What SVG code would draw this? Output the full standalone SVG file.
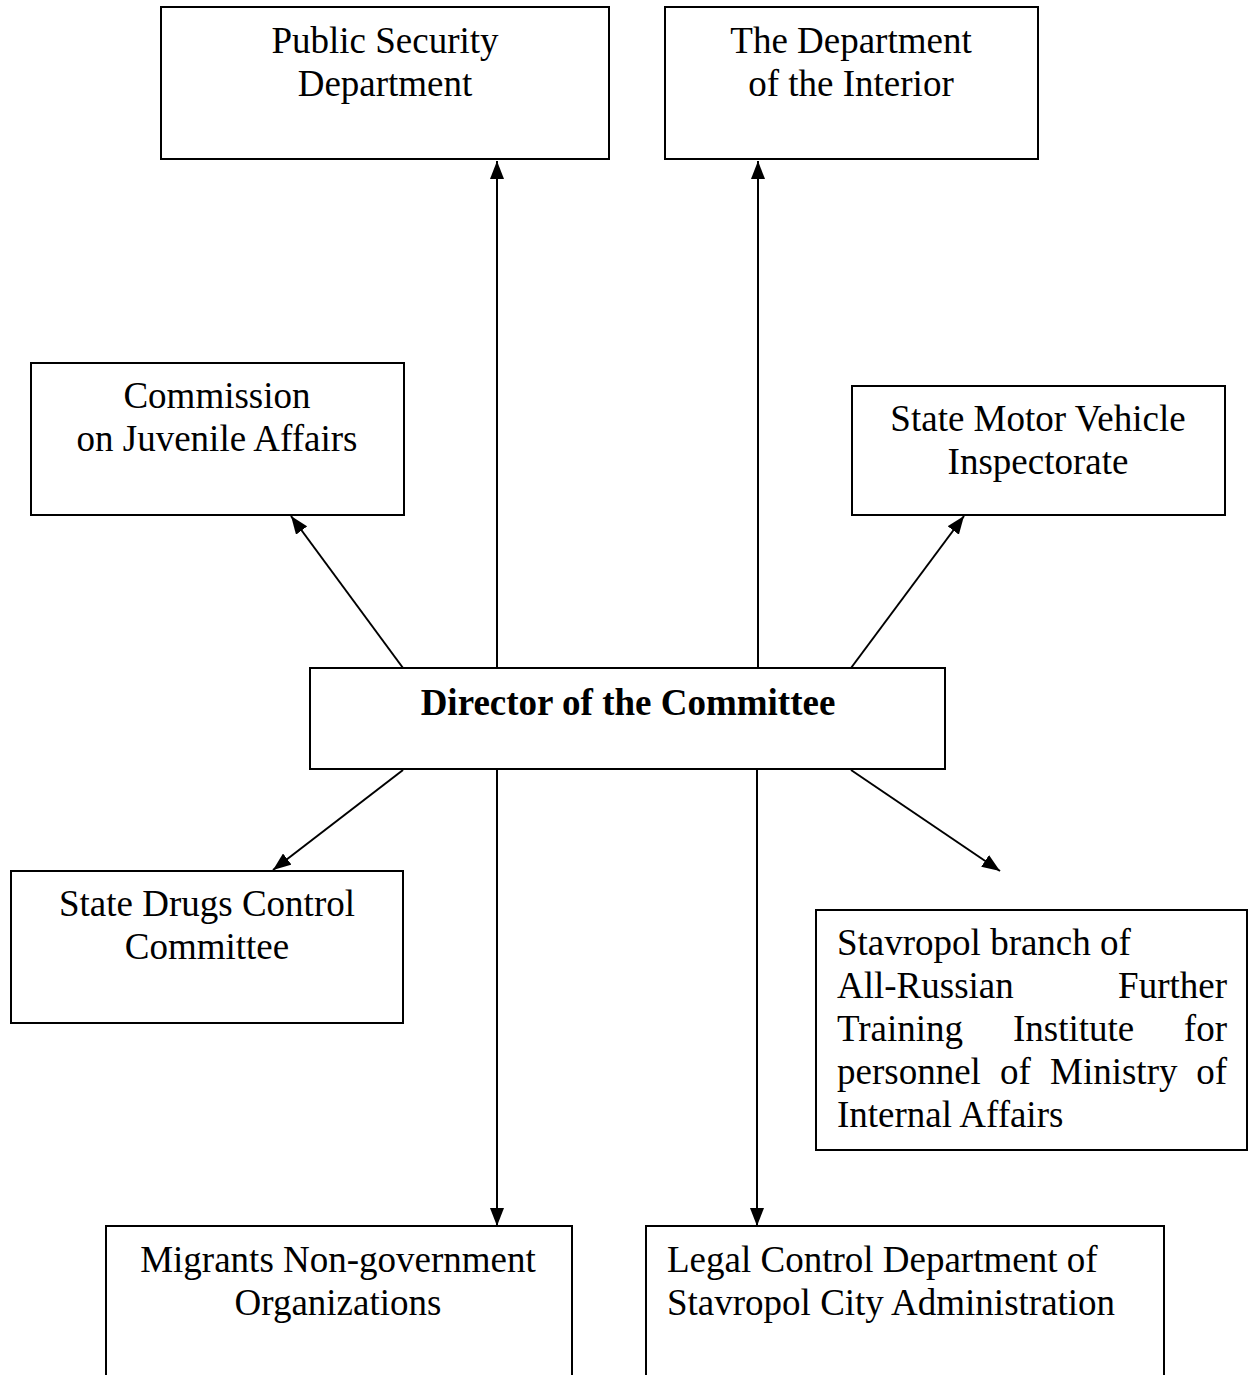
<svg xmlns="http://www.w3.org/2000/svg" width="1255" height="1375" viewBox="0 0 1255 1375">
<style>
.box{fill:#fff;stroke:#000;stroke-width:2}
.t{font-family:"Liberation Serif","Times New Roman",serif;font-size:37px;fill:#000}
.c{text-anchor:middle}
.e{text-anchor:end}
.b{font-weight:bold}
.ln{stroke:#000;stroke-width:2;fill:none}
</style>
<defs>
<marker id="arr" markerUnits="userSpaceOnUse" markerWidth="18" markerHeight="14" refX="18" refY="7" orient="auto">
<path d="M0,0 L18,7 L0,14 z" fill="#000"/>
</marker>
</defs>
<rect width="1255" height="1375" fill="#fff"/>
<g id="connectors">
<line class="ln" x1="497" y1="668" x2="497" y2="161" marker-end="url(#arr)"/>
<line class="ln" x1="758" y1="668" x2="758" y2="161" marker-end="url(#arr)"/>
<line class="ln" x1="403" y1="668" x2="291" y2="516" marker-end="url(#arr)"/>
<line class="ln" x1="851" y1="668" x2="964" y2="516" marker-end="url(#arr)"/>
<line class="ln" x1="403" y1="770" x2="273" y2="870" marker-end="url(#arr)"/>
<line class="ln" x1="851" y1="770" x2="1000" y2="871" marker-end="url(#arr)"/>
<line class="ln" x1="497" y1="770" x2="497" y2="1226" marker-end="url(#arr)"/>
<line class="ln" x1="757" y1="770" x2="757" y2="1226" marker-end="url(#arr)"/>
</g>
<g id="public-security">
<rect class="box" x="161" y="7" width="448" height="152"/>
<text class="t c" x="385" y="53">Public Security</text>
<text class="t c" x="385" y="96">Department</text>
</g>
<g id="interior">
<rect class="box" x="665" y="7" width="373" height="152"/>
<text class="t c" x="851" y="53">The Department</text>
<text class="t c" x="851" y="96">of the Interior</text>
</g>
<g id="juvenile">
<rect class="box" x="31" y="363" width="373" height="152"/>
<text class="t c" x="217" y="408">Commission</text>
<text class="t c" x="217" y="451">on Juvenile Affairs</text>
</g>
<g id="motor">
<rect class="box" x="852" y="386" width="373" height="129"/>
<text class="t c" x="1038" y="431">State Motor Vehicle</text>
<text class="t c" x="1038" y="474">Inspectorate</text>
</g>
<g id="director">
<rect class="box" x="310" y="668" width="635" height="101"/>
<text class="t c b" x="628" y="715">Director of the Committee</text>
</g>
<g id="drugs">
<rect class="box" x="11" y="871" width="392" height="152"/>
<text class="t c" x="207" y="916">State Drugs Control</text>
<text class="t c" x="207" y="959">Committee</text>
</g>
<g id="stavropol-branch">
<rect class="box" x="816" y="910" width="431" height="240"/>
<text class="t" x="837" y="955">Stavropol branch of</text>
<text class="t" x="837" y="998">All-Russian</text>
<text class="t e" x="1227" y="998">Further</text>
<text class="t" x="837" y="1041">Training</text>
<text class="t" x="1013" y="1041">Institute</text>
<text class="t e" x="1227" y="1041">for</text>
<text class="t" x="837" y="1084">personnel</text>
<text class="t" x="1000" y="1084">of</text>
<text class="t" x="1050" y="1084">Ministry</text>
<text class="t e" x="1227" y="1084">of</text>
<text class="t" x="837" y="1127">Internal Affairs</text>
</g>
<g id="migrants">
<rect class="box" x="106" y="1226" width="466" height="180"/>
<text class="t c" x="338" y="1272">Migrants Non-government</text>
<text class="t c" x="338" y="1315">Organizations</text>
</g>
<g id="legal-control">
<rect class="box" x="646" y="1226" width="518" height="180"/>
<text class="t" x="667" y="1272">Legal Control Department of</text>
<text class="t" x="667" y="1315">Stavropol City Administration</text>
</g>
</svg>
